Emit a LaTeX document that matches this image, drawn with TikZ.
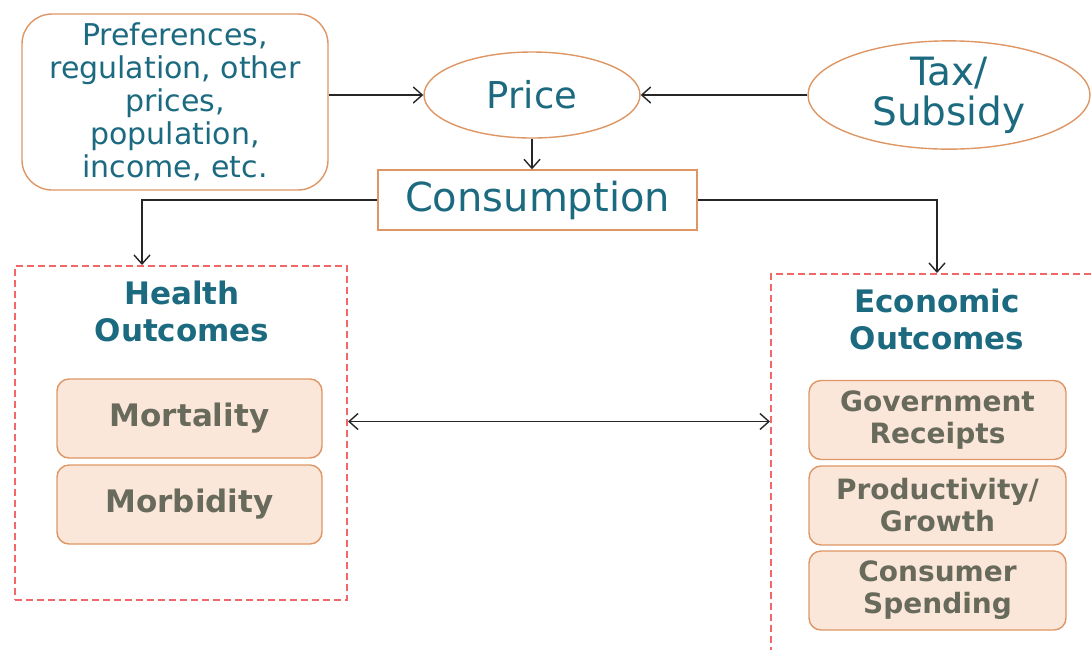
\documentclass[tikz,border=0pt]{standalone}
\usepackage{fontspec}
\setmainfont{DejaVu Sans}
\usetikzlibrary{positioning, calc}
\usetikzlibrary{shapes.geometric}
\usetikzlibrary{arrows.meta}

\definecolor{tealtext}{RGB}{28,106,128}
\definecolor{greytext}{RGB}{104,106,92}
\definecolor{orangeline}{RGB}{222,150,100}
\definecolor{peach}{RGB}{251,231,218}
\definecolor{dashred}{RGB}{242,104,104}

\tikzset{
  driver/.style={draw=orangeline, line width=1.4pt, rounded corners=30pt, text=tealtext, align=center,
    minimum width=306pt, minimum height=176pt, font=\fontsize{30}{33}\selectfont},
  oval/.style={ellipse, draw=orangeline, line width=1.4pt, text=tealtext, align=center, inner sep=0pt},
  hub/.style={draw=orangeline, line width=1.4pt, text=tealtext, minimum width=319pt, minimum height=60pt,
    font=\fontsize{40}{44}\selectfont},
  group/.style={draw=dashred, line width=2pt, dash pattern=on 7pt off 4pt},
  heading/.style={text=tealtext, font=\bfseries\fontsize{31}{37}\selectfont, align=center},
  outcome/.style={draw=orangeline, fill=peach, line width=1.4pt, rounded corners=12pt, text=greytext,
    font=\bfseries\fontsize{28}{32}\selectfont, align=center, minimum width=265pt, minimum height=79pt},
  tip/.tip={Straight Barb[length=9pt, width=16pt]},
  link/.style={-tip, line width=1.4pt, black!85}
}

\begin{document}
\begin{tikzpicture}[x=1pt, y=-1pt]
\useasboundingbox (0,0) rectangle (1091,649);
\clip (0,0) rectangle (1091,649);

% top row
\node[driver] (drivers) at (175,102) {Preferences,\\regulation, other\\prices,\\population,\\income, etc.};
\node[oval, minimum width=216pt, minimum height=86pt, font=\fontsize{37}{40}\selectfont] (price) at (532,95) {Price};
\node[oval, minimum width=282pt, minimum height=101pt, font=\fontsize{39}{40}\selectfont] (tax) at (949,95) {Tax/\\Subsidy};
\node[hub] (cons) at (537.5,200) {Consumption};

% outcome groups
\node[group, minimum width=332pt, minimum height=334pt] (health) at (181,433) {};
\node[group, minimum width=332pt, minimum height=426pt] (econ) at (937,487) {};

\node[heading] (healthtitle) at (182,311) {Health\\Outcomes};
\node[outcome, font=\bfseries\fontsize{31}{32}\selectfont] (mort) at (189.5,418.5) {Mortality};
\node[outcome, font=\bfseries\fontsize{31}{32}\selectfont] (morb) at (189.5,504.5) {Morbidity};

\node[heading] (econtitle) at (937,319) {Economic\\Outcomes};
\node[outcome, minimum width=257pt] (receipts) at (937.5,420) {Government\\Receipts};
\node[outcome, minimum width=257pt] (growth) at (937.5,505.5) {Productivity/\\Growth};
\node[outcome, minimum width=257pt] (spending) at (937.5,590.5) {Consumer\\Spending};

% arrows
\draw[link] (drivers.east |- price.west) -- (price.west);
\draw[link] (tax) -- (price);
\draw[link] (price.south) -- (price.south |- cons.north);
\draw[link] (cons.west) -| ([xshift=-39pt]health.north);
\draw[link] (cons.east) -| (econ.north);
\draw[link, tip-tip] ([yshift=-3pt]health.east |- mort) -- ([yshift=-3pt]econ.west |- mort);
\end{tikzpicture}
\end{document}
